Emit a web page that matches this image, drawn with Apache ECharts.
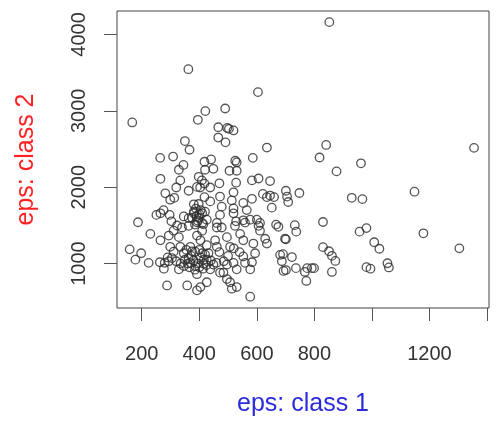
<!DOCTYPE html>
<html>
<head>
<meta charset="utf-8">
<script src="https://cdn.jsdelivr.net/npm/echarts/dist/echarts.min.js"></script>
<style>
html,body{margin:0;padding:0;background:#fff;}
#chart{width:496px;height:422px;}
</style>
</head>
<body>
<div id="chart"></div>
<script>
var xTitle = 'eps: class 1';
var yTitle = 'eps: class 2';
var xTickValues = [200, 400, 600, 800, 1000, 1200, 1400];
var xLabelValues = [200, 400, 600, 800, 1200];
var yTickValues = [1000, 2000, 3000, 4000];
var yLabelValues = [1000, 2000, 3000, 4000];

var class1 = [362,604,167,421,490,395,466,497,503,519,466,491,350,366,635,264,309,441,418,525,530,586,345,852,841,818,962,1355,877,748,930,967,1148,830,732,737,957,981,1179,1008,1026,1304,830,851,861,873,722,736,775,791,799,767,772,861,981,995,1054,1059,701,691,701,701,705,709,329,265,334,398,320,363,392,418,282,313,299,381,418,187,251,265,276,297,303,346,363,381,398,410,410,323,420,449,505,530,409,470,528,583,606,646,403,438,519,472,438,513,553,583,621,635,646,660,652,478,519,565,420,426,472,519,528,553,577,600,611,667,461,230,265,294,311,329,340,363,158,198,178,224,263,277,294,305,311,299,334,346,363,369,346,329,386,392,288,358,392,404,392,404,410,369,386,410,416,413,675,414,461,478,524,559,606,611,629,635,698,426,400,432,455,461,496,507,542,553,588,594,553,559,583,577,519,530,496,484,496,507,449,438,426,426,472,513,530,577,681,687,693,381,390,395,388,400,405,392,375,385,398,350,360,372,380,395,405,415,420,365,385,400,355,375,425,440,290,280,320,335,470,485,500,520,540,460];
var class2 = [3545,3245,2848,2996,3030,2882,2785,2776,2764,2743,2650,2587,2604,2490,2519,2384,2401,2363,2333,2346,2325,2384,2291,4161,2553,2389,2313,2515,2207,1924,1861,1844,1941,1544,1503,1418,1418,1464,1396,1279,1194,1199,1215,1161,1101,1034,1085,940,940,940,940,890,772,890,953,933,1004,949,1317,1123,915,1953,1877,1806,2228,2110,2089,2136,1996,1953,2004,2047,1920,1861,1836,1776,1870,1541,1637,1658,1700,1637,1553,1617,1595,1658,1595,1658,1532,1498,2228,2241,2215,2215,2089,2051,2059,2089,2114,2080,1996,1996,1933,1877,1814,1827,1794,1848,1912,1870,1890,1870,1732,1745,1722,1700,1680,1574,1637,1658,1553,1566,1574,1574,1532,1510,1532,1389,1304,1367,1430,1346,1472,1494,1186,1135,1051,1009,1017,933,1030,1072,1156,1219,1219,1135,1072,1009,966,924,966,861,713,713,649,692,1367,1304,1430,1219,1156,1135,1051,933,1481,1515,1472,1472,1494,1536,1494,1430,1325,1262,1325,1241,1180,1135,1304,1219,1346,1219,1389,1304,1262,1135,1093,1009,1017,924,1009,924,987,882,797,755,987,924,1051,755,882,671,692,566,1114,1030,903,1680,1620,1560,1720,1650,1700,1540,1600,1510,1780,1050,1000,1100,1040,1000,1080,1000,1120,950,920,950,1180,1160,980,1040,1080,1010,1030,1000,1150,1030,1100,1200,1150,1010];

var pts = [];
for (var i = 0; i < class1.length; i++) pts.push([class1[i], class2[i]]);

var chart = echarts.init(document.getElementById('chart'), null, {renderer: 'canvas'});
var font = 'Liberation Sans, Arial, sans-serif';
function plain(v) { return String(v); }
chart.setOption({
  animation: false,
  backgroundColor: '#ffffff',
  grid: {left: 117, top: 11, width: 372, height: 307, show: true, borderColor: '#444', borderWidth: 1, backgroundColor: 'transparent'},
  xAxis: {
    type: 'value', min: 114, max: 1407,
    name: xTitle, nameLocation: 'middle', nameGap: 84,
    nameTextStyle: {color: '#2b2bd9', fontSize: 25, fontFamily: font},
    axisLine: {show: false},
    splitLine: {show: false},
    axisTick: {show: true, length: 13, inside: false, customValues: xTickValues, lineStyle: {color: '#555', width: 1}},
    axisLabel: {show: true, margin: 36, customValues: xLabelValues, formatter: plain, color: '#333', fontSize: 20, fontFamily: font}
  },
  yAxis: {
    type: 'value', min: 418, max: 4307,
    name: yTitle, nameLocation: 'middle', nameGap: 78, nameRotate: 90,
    nameTextStyle: {color: '#f22', fontSize: 25, fontFamily: font},
    axisLine: {show: false},
    splitLine: {show: false},
    axisTick: {show: true, length: 13, inside: false, customValues: yTickValues, lineStyle: {color: '#555', width: 1}},
    axisLabel: {show: true, margin: 28, rotate: 90, customValues: yLabelValues, formatter: plain, color: '#333', fontSize: 20, fontFamily: font}
  },
  series: [{
    type: 'scatter',
    data: pts,
    symbol: 'circle',
    symbolSize: 8.5,
    itemStyle: {color: 'rgba(0,0,0,0)', borderColor: '#2a2a2a', borderWidth: 1.3},
    emphasis: {disabled: true}
  }]
});
</script>
</body>
</html>
